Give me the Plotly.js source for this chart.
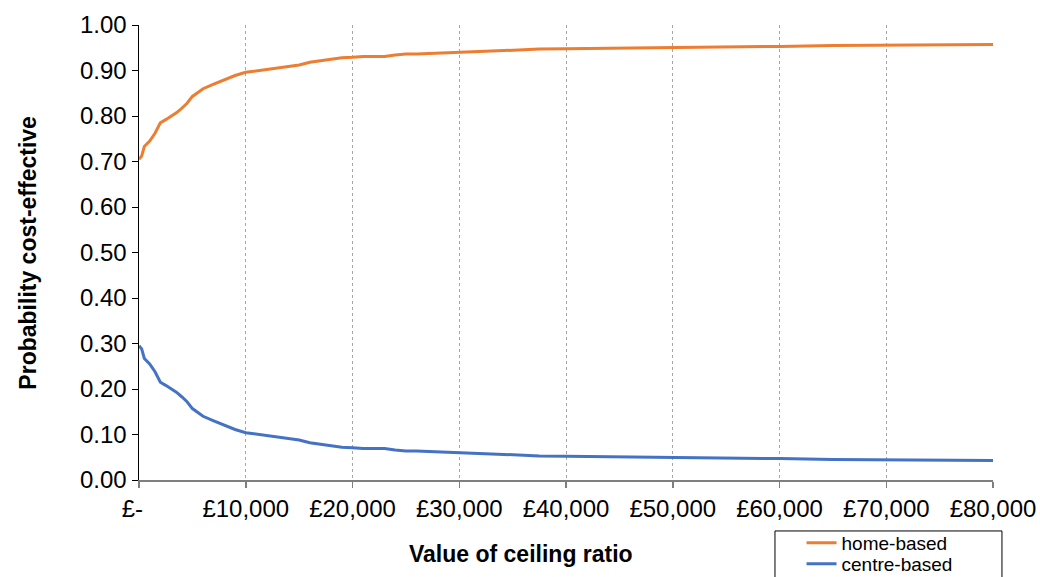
<!DOCTYPE html>
<html>
<head>
<meta charset="utf-8">
<script src="https://cdn.plot.ly/plotly-3.0.1.min.js"></script>
<style>html,body{margin:0;padding:0;background:#fff;}#chart{width:1040px;height:577px;}</style>
</head>
<body>
<div id="chart"></div>
<script>
const ceilingRatio = [0, 250, 500, 1000, 1500, 2000, 2500, 3000, 3500, 4000, 4500, 5000, 5500, 6000, 7000, 8000, 9000, 10000, 11000, 12000, 13000, 14000, 15000, 16000, 17000, 18000, 19000, 20000, 21000, 22000, 23000, 24000, 25000, 26000, 27000, 28000, 30000, 32500, 35000, 37500, 40000, 45000, 50000, 55000, 60000, 65000, 70000, 75000, 80000];
const homeBased = [0.705, 0.712, 0.733, 0.745, 0.762, 0.785, 0.792, 0.799, 0.807, 0.817, 0.828, 0.843, 0.852, 0.860, 0.870, 0.880, 0.889, 0.896, 0.899, 0.902, 0.906, 0.909, 0.912, 0.918, 0.921, 0.924, 0.928, 0.929, 0.931, 0.931, 0.931, 0.934, 0.936, 0.936, 0.937, 0.939, 0.941, 0.943, 0.945, 0.947, 0.948, 0.949, 0.951, 0.951, 0.953, 0.955, 0.956, 0.957, 0.957];
const centreBased = [0.295, 0.288, 0.267, 0.255, 0.238, 0.215, 0.208, 0.201, 0.193, 0.183, 0.172, 0.157, 0.148, 0.140, 0.130, 0.120, 0.111, 0.104, 0.101, 0.098, 0.094, 0.091, 0.088, 0.082, 0.079, 0.076, 0.072, 0.071, 0.069, 0.069, 0.069, 0.066, 0.064, 0.064, 0.063, 0.061, 0.059, 0.057, 0.055, 0.053, 0.052, 0.051, 0.049, 0.049, 0.047, 0.045, 0.044, 0.043, 0.043];
const xTickVals = [0, 10000, 20000, 30000, 40000, 50000, 60000, 70000, 80000];
const xTickText = ['£-  ', '£10,000', '£20,000', '£30,000', '£40,000', '£50,000', '£60,000', '£70,000', '£80,000'];
const yTickVals = [0, 0.1, 0.2, 0.3, 0.4, 0.5, 0.6, 0.7, 0.8, 0.9, 1.0];

const font = 'Liberation Sans, Arial, sans-serif';
const traces = [
  {x: ceilingRatio, y: homeBased, name: 'home-based', mode: 'lines', line: {color: '#ED7D31', width: 3}, legend: 'legend'},
  {x: ceilingRatio, y: centreBased, name: 'centre-based', mode: 'lines', line: {color: '#4472C4', width: 3}, legend: 'legend2'}
];
const legendBase = {xanchor: 'left', yanchor: 'middle', borderwidth: 0, bgcolor: 'rgba(0,0,0,0)',
                    font: {size: 19, family: font}, itemwidth: 30};
const layout = {
  width: 1040, height: 577,
  margin: {l: 139, r: 47, t: 25, b: 97, autoexpand: false},
  paper_bgcolor: '#fff', plot_bgcolor: '#fff',
  font: {family: font, size: 24, color: '#000'},
  showlegend: true,
  legend: Object.assign({}, legendBase, {x: 0.7758, y: -0.138}),
  legend2: Object.assign({}, legendBase, {x: 0.7758, y: -0.1846}),
  xaxis: {range: [0, 80000], tickvals: xTickVals, ticktext: xTickText, ticks: 'outside', ticklen: 6,
          tickcolor: '#7f7f7f', tickwidth: 1.5, showline: true, linecolor: '#7f7f7f', linewidth: 2,
          showgrid: true, gridcolor: '#a6a6a6', griddash: 'dot', gridwidth: 1, zeroline: false,
          tickfont: {size: 24, family: font}, automargin: false},
  yaxis: {range: [0, 1], tickvals: yTickVals, tickformat: '.2f', ticks: 'outside', ticklen: 6,
          tickcolor: '#000', tickwidth: 1, showline: true, linecolor: '#000', linewidth: 1.5,
          showgrid: false, zeroline: false, tickfont: {size: 24, family: font}, automargin: false},
  shapes: [
    {type: 'rect', xref: 'paper', yref: 'paper', x0: 0.7447, x1: 1.0105, y0: -0.112, y1: -0.26,
     line: {color: '#000', width: 1}, fillcolor: 'rgba(0,0,0,0)', layer: 'above'}
  ],
  annotations: [
    {text: '<b>Value of ceiling ratio</b>', xref: 'paper', yref: 'paper', x: 0.447, y: -0.163,
     xanchor: 'center', yanchor: 'middle', showarrow: false, font: {size: 23, family: font}},
    {text: '<b>Probability cost-effective</b>', xref: 'paper', yref: 'paper', x: -0.131, y: 0.5,
     xanchor: 'center', yanchor: 'middle', textangle: -90, showarrow: false, font: {size: 23, family: font}}
  ]
};
Plotly.newPlot('chart', traces, layout, {displayModeBar: false, staticPlot: true});
</script>
</body>
</html>
